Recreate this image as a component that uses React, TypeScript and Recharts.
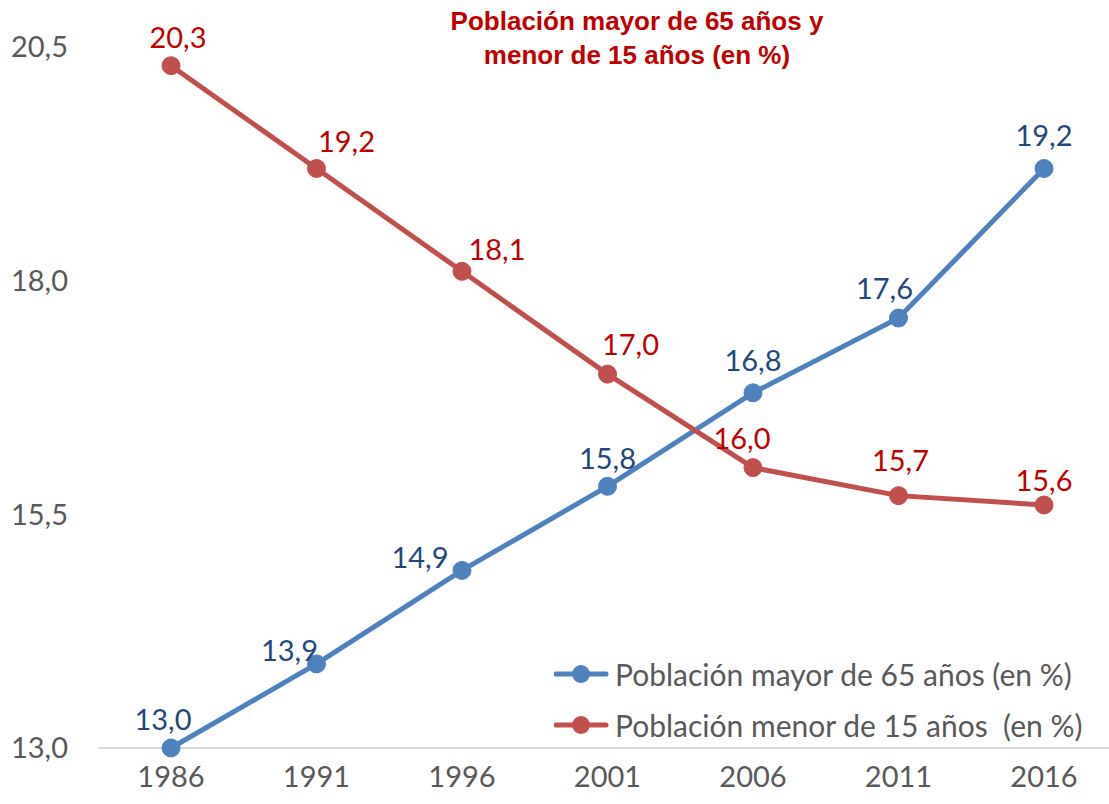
import { LineChart, Line, XAxis, YAxis, LabelList } from 'recharts';

const years = ['1986', '1991', '1996', '2001', '2006', '2011', '2016'];
const mayor65 = [13.0, 13.9, 14.9, 15.8, 16.8, 17.6, 19.2];
const menor15 = [20.3, 19.2, 18.1, 17.0, 16.0, 15.7, 15.6];
const yTicks = [13.0, 15.5, 18.0, 20.5];

// label placement relative to each point (dx, dy)
const blueLabelShift = [[-8, -30], [-27, -14], [-42, -14], [0, -29], [0, -33], [-14, -31], [0, -34]];
const redLabelShift = [[7, -29], [30, -28], [35, -23], [23, -31], [-11, -30], [2, -36], [0, -25]];

const data = years.map((year, i) => ({ year, mayor: mayor65[i], menor: menor15[i] }));

const fmt = (v: number) => v.toFixed(1).replace('.', ',');
const FONT = 'Lato, "Open Sans", sans-serif';
const FS = 29;

const makeLabel = (color: string, shifts: number[][]) => (props: any) => {
  const { x, y, value, index } = props;
  const [dx, dy] = shifts[index] || [0, -30];
  return (
    <text x={x + dx} y={y + dy} textAnchor="middle" dominantBaseline="central" fill={color} fontSize={FS} fontFamily={FONT}>
      {fmt(value)}
    </text>
  );
};

const legendItems = [
  { name: 'Población mayor de 65 años (en %)', color: '#4f81bd' },
  { name: 'Población menor de 15 años  (en %)', color: '#c0504d' },
];

const LegendBox = () => (
  <div style={{ position: 'absolute', left: 554, top: 648, fontFamily: FONT, fontSize: 30, color: '#595959' }}>
    {legendItems.map((it) => (
      <div key={it.name} style={{ display: 'flex', alignItems: 'center', height: 51, whiteSpace: 'pre' }}>
        <svg width={56} height={20} style={{ marginRight: 5 }}>
          <line x1={2} y1={10} x2={52} y2={10} stroke={it.color} strokeWidth={5} strokeLinecap="round" />
          <circle cx={27} cy={10} r={9} fill={it.color} />
        </svg>
        <span>{it.name}</span>
      </div>
    ))}
  </div>
);

export default function App() {
  return (
    <div style={{ position: 'absolute', left: 0, top: 0, width: 1109, height: 804, background: '#fff' }}>
      <LineChart width={1109} height={804} data={data} margin={{ top: 47, right: 0, left: 0, bottom: 0 }}>
        <XAxis
          dataKey="year"
          padding={{ left: 73, right: 65 }}
          height={56}
          axisLine={{ stroke: '#d9d9d9', strokeWidth: 2 }}
          tickLine={false}
          tick={{ fill: '#595959', fontSize: FS, fontFamily: FONT }}
          tickMargin={12}
        />
        <YAxis
          domain={[13, 20.5]}
          ticks={yTicks}
          width={98}
          axisLine={false}
          tickLine={false}
          tickSize={0}
          tickMargin={30}
          tickFormatter={fmt}
          tick={{ fill: '#595959', fontSize: FS, fontFamily: FONT }}
        />
        <Line
          dataKey="mayor"
          stroke="#4f81bd"
          strokeWidth={5}
          dot={{ r: 9, fill: '#4f81bd', stroke: '#4f81bd', strokeWidth: 1 }}
          isAnimationActive={false}
        >
          <LabelList dataKey="mayor" content={makeLabel('#1f497d', blueLabelShift)} />
        </Line>
        <Line
          dataKey="menor"
          stroke="#c0504d"
          strokeWidth={5}
          dot={{ r: 9, fill: '#c0504d', stroke: '#c0504d', strokeWidth: 1 }}
          isAnimationActive={false}
        >
          <LabelList dataKey="menor" content={makeLabel('#c00000', redLabelShift)} />
        </Line>
      </LineChart>
      <div
        style={{
          position: 'absolute',
          left: 387,
          width: 500,
          top: 4,
          textAlign: 'center',
          fontFamily: '"Liberation Sans", Arial, sans-serif',
          fontWeight: 'bold',
          fontSize: 26,
          lineHeight: '34px',
          color: '#c00000',
        }}
      >
        Población mayor de 65 años y
        <br />
        menor de 15 años (en %)
      </div>
      <LegendBox />
    </div>
  );
}
